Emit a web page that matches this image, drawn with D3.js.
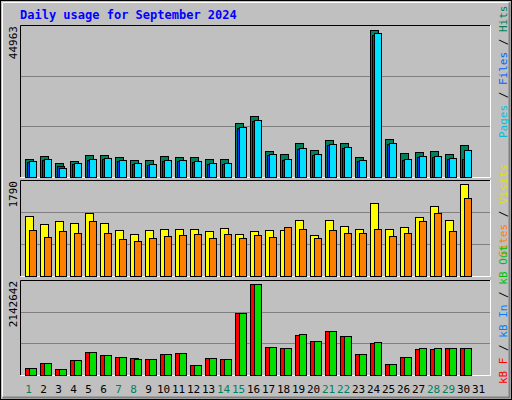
<!DOCTYPE html>
<html><head><meta charset="utf-8">
<script src="https://cdn.jsdelivr.net/npm/d3@7/dist/d3.min.js"></script>
<style>body{margin:0;background:#fff}svg{display:block}</style>
</head><body><svg id="c" width="512" height="400"></svg>
<script>
const days = d3.range(1, 32);
const weekends = [1,7,8,14,15,21,22,28,29];
const hits  = [5500,6400,4300,4900,6700,6700,6100,5200,5200,6400,6100,6100,5500,5500,16500,18700,8000,7000,10400,8300,11300,10400,6100,44963,11600,7300,7700,8000,7000,9800];
const files = [4900,5500,2750,4300,5500,5800,5200,4300,4000,5200,5200,4900,4300,4300,15300,17400,7000,5500,8900,7000,10100,9200,5200,43800,10400,5500,6400,6400,5800,8300];
const pages = [4600,5200,3300,4100,5300,5500,4900,4100,3800,4900,4900,4600,4000,4000,15000,17100,6600,5200,8600,6700,9800,8900,4900,43300,10100,5200,6100,6100,5500,5500];
const visits = [1170,1014,1072,1034,1227,1034,898,820,898,917,917,917,879,937,820,879,898,898,1092,801,1092,975,917,1421,917,956,1150,1363,1092,1790];
const sites  = [898,762,879,840,1072,840,724,685,743,782,801,820,743,820,743,801,762,956,917,743,898,840,840,917,782,840,1072,1227,879,1518];
const kbF   = [172000,289000,149000,360000,547000,477000,430000,407000,383000,500000,524000,242000,407000,383000,1462000,2142642,665000,641000,946000,805000,1040000,923000,500000,759000,266000,430000,618000,618000,641000,641000];
const kbOut = [172000,289000,149000,360000,547000,477000,430000,383000,383000,500000,524000,242000,407000,383000,1462000,2142642,665000,641000,970000,805000,1040000,923000,500000,782000,266000,430000,641000,641000,641000,641000];
const maxLabels = ["44963","1790","2142642"];

const svg = d3.select("#c");
const F = "DejaVu Sans Mono, monospace";
svg.append("rect").attr("x",0).attr("y",0).attr("width",512).attr("height",400).attr("fill","#c0c0c0");
svg.append("rect").attr("x",0.5).attr("y",0.5).attr("width",511).attr("height",399).attr("fill","none").attr("stroke","#000");
svg.append("path").attr("d","M2.5,397.5V2.5H509.5").attr("stroke","#fff").attr("fill","none");
svg.append("path").attr("d","M2.5,397.5H509.5V2.5").attr("stroke","#808080").attr("stroke-width",2).attr("fill","none");

svg.append("text").attr("x",20).attr("y",19).attr("fill","#0000ff").attr("font-family",F)
  .attr("font-weight","bold").attr("font-size",12).text("Daily usage for September 2024");

const x = d3.scaleBand().domain(days).range([20, 485]).paddingInner(0);
function panel(top, bottom, maxY, maxV, label) {
  svg.append("path").attr("d",`M20.5,${bottom}V${top+0.5}H490.5`).attr("stroke","#000").attr("fill","none");
  svg.append("path").attr("d",`M20.5,${bottom+0.5}H490.5V${top}`).attr("stroke","#fff").attr("fill","none");
  const h = bottom - top;
  [1/3, 2/3].forEach(f => {
    const gy = Math.round(bottom - h*f) + 0.5;
    svg.append("line").attr("x1",21).attr("x2",490).attr("y1",gy).attr("y2",gy).attr("stroke","#808080");
  });
  svg.append("text").attr("transform",`translate(17,${top+1}) rotate(-90)`).attr("text-anchor","end")
    .attr("font-family",F).attr("font-size",11).attr("fill","#000").text(label);
  return d3.scaleLinear().domain([0, maxV]).range([bottom, maxY]);
}
function bars(data, y, off, w, color) {
  svg.append("g").selectAll("rect").data(data).join("rect")
    .attr("x",(d,i)=>x(days[i])+5+off+0.5).attr("width",w)
    .attr("y",d=>Math.round(y(d))+0.5).attr("height",d=>Math.max(0,y.range()[0]-Math.round(y(d))))
    .attr("fill",color).attr("stroke","#000");
}
const y1 = panel(25, 177, 29.5, 44963, maxLabels[0]);
bars(hits, y1, 0, 8, "#00805c");
bars(pages, y1, 2, 7, "#0040ff");
bars(files, y1, 4, 7, "#00e0ff");
const y2 = panel(180, 276, 184.3, 1790, maxLabels[1]);
bars(visits, y2, 0, 8, "#ffff00");
bars(sites, y2, 4, 7, "#ff8000");
const y3 = panel(280, 375, 284.3, 2142642, maxLabels[2]);
bars(kbF, y3, 0, 8, "#ff0000");
bars(kbOut, y3, 4, 7, "#00e000");

svg.append("g").selectAll("text").data(days).join("text")
  .attr("x",d=>x(d)+x.bandwidth()/2+1).attr("y",393).attr("text-anchor","middle")
  .attr("font-family",F).attr("font-size",11)
  .attr("fill",d=>weekends.includes(d)?"#00805c":"#000").text(d=>d);

function sideLabel(yStart, parts) {
  const t = svg.append("text").attr("transform",`translate(507,${yStart}) rotate(-90)`)
    .attr("font-family",F).attr("font-size",11);
  parts.forEach(([s,c]) => t.append("tspan").attr("fill",c).text(s));
}
sideLabel(138, [["Pages","#00c0e0"],[" / ","#000"],["Files","#0060ff"],[" / ","#000"],["Hits","#00805c"]]);
sideLabel(257, [["Sites","#ff8000"],[" / ","#000"],["Visits","#e0e000"]]);
sideLabel(384, [["kB F","#ff0000"],[" / ","#000"],["kB In","#0080ff"],[" / ","#000"],["kB Out","#00c000"]]);
</script></body></html>
